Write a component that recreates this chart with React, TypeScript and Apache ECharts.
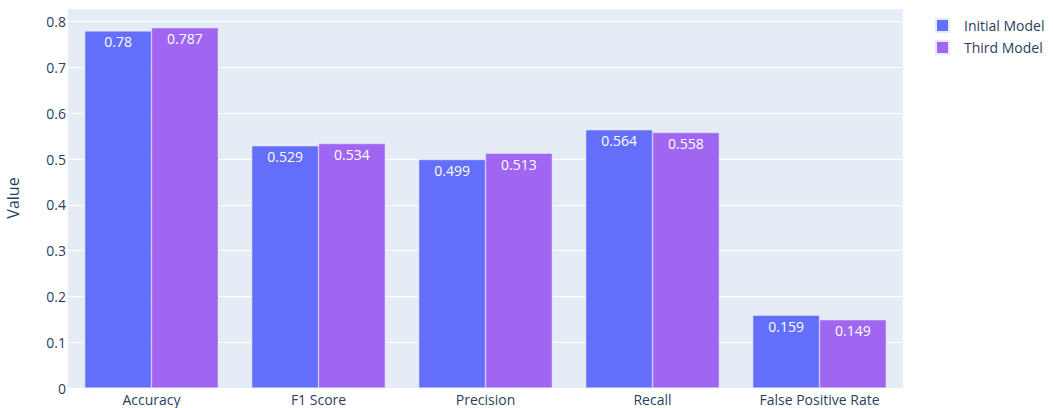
import React, { useEffect, useRef } from "react";
import * as echarts from "echarts";

const categories = ["Accuracy", "F1 Score", "Precision", "Recall", "False Positive Rate"];
const initialModel = [0.78, 0.529, 0.499, 0.564, 0.159];
const thirdModel = [0.787, 0.534, 0.513, 0.558, 0.149];
const seriesNames = ["Initial Model", "Third Model"];

const FONT = '"Open Sans", verdana, arial, sans-serif';
const TXT = "#2a3f5f";

export default function App() {
  const ref = useRef<HTMLDivElement>(null);
  useEffect(() => {
    if (!ref.current) return;
    const chart = echarts.init(ref.current, undefined, { renderer: "svg" });
    const mkSeries = (name: string, data: number[], color: string) => ({
      name,
      type: "bar",
      data,
      barGap: "0%",
      barCategoryGap: "20%",
      itemStyle: { color, borderColor: "#E5ECF6", borderWidth: 0.5 },
      label: {
        show: true,
        position: "insideTop",
        distance: 4,
        color: "#ffffff",
        fontFamily: FONT,
        fontSize: 14,
        formatter: (p: any) => String(p.value),
      },
    });
    chart.setOption({
      animation: false,
      textStyle: { fontFamily: FONT },
      grid: {
        left: 68,
        right: 150,
        top: 8,
        bottom: 20,
        containLabel: false,
        outerBoundsMode: "none",
        show: true,
        backgroundColor: "#E5ECF6",
        borderWidth: 0,
      },
      legend: {
        orient: "vertical",
        left: 930,
        top: 13,
        itemWidth: 13,
        itemHeight: 13,
        itemGap: 7,
        icon: "rect",
        data: seriesNames,
        textStyle: { color: TXT, fontSize: 14, fontFamily: FONT, padding: [0, 0, 0, 10] },
      },
      xAxis: {
        type: "category",
        data: categories,
        axisLine: { show: false },
        axisTick: { show: false },
        axisLabel: { color: TXT, fontSize: 14, margin: 4, fontFamily: FONT },
        splitLine: { show: false },
      },
      yAxis: {
        type: "value",
        min: 0,
        max: 0.83,
        interval: 0.1,
        name: "Value",
        nameLocation: "middle",
        nameGap: 47,
        nameTextStyle: { color: TXT, fontSize: 16, fontFamily: FONT },
        axisLine: { show: false },
        axisTick: { show: false },
        axisLabel: {
          color: TXT,
          fontSize: 14,
          margin: 2,
          fontFamily: FONT,
          formatter: (v: number) => (v > 0.82 ? "" : String(Math.round(v * 10) / 10)),
        },
        splitLine: { lineStyle: { color: "#ffffff", width: 1 } },
      },
      series: [
        mkSeries(seriesNames[0], initialModel, "#636efa"),
        mkSeries(seriesNames[1], thirdModel, "#a066f2"),
      ],
    });
    return () => chart.dispose();
  }, []);
  return (
    <div
      ref={ref}
      style={{ position: "fixed", left: 0, top: 0, width: 1053, height: 408, background: "#ffffff" }}
    />
  );
}
